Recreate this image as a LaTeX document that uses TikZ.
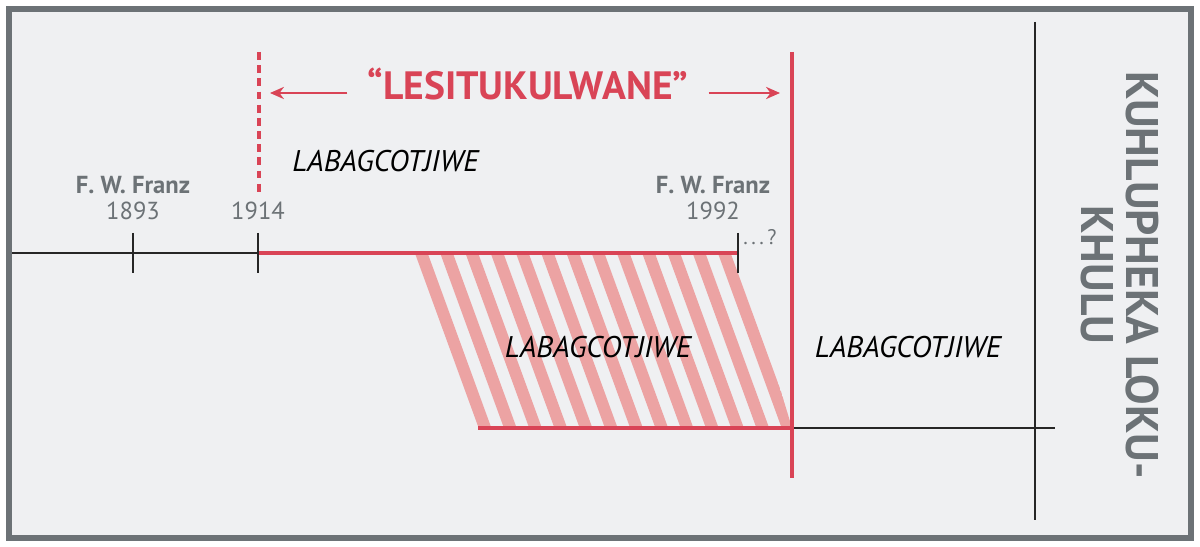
\documentclass[tikz,border=0pt]{standalone}
\usepackage{fontspec}
\setmainfont{PT Sans}
\usetikzlibrary{arrows.meta, positioning}

\definecolor{tlred}{RGB}{217,68,86}
\definecolor{tlpink}{RGB}{236,163,163}
\definecolor{tlgray}{RGB}{108,114,118}
\definecolor{tlbg}{RGB}{239,240,242}

\begin{document}
\begin{tikzpicture}[
    x=0.02cm, y=-0.02cm,
    blackline/.style={draw=black!85, line width=1.6pt},
    redline/.style={draw=tlred, line width=2.3pt},
    tickmark/.style={draw=black!85, line width=1.4pt},
    arr/.style={-{Stealth[length=8pt, width=7pt]}, draw=tlred, line width=0.9pt},
    era/.style={font=\fontsize{17}{20}\selectfont\itshape, text=black, inner sep=0pt},
    who/.style={font=\fontsize{14}{17}\selectfont\bfseries, text=tlgray, inner sep=0pt},
    yr/.style={font=\fontsize{14}{17}\selectfont, text=tlgray, inner sep=0pt}
]
    % frame and background
    \fill[white] (0,0) rectangle (1200,547);
    \draw[fill=tlbg, draw=tlgray, line width=3.4pt] (9,9) rectangle (1191,538);

    % points on the upper timeline
    \coordinate (start) at (12,253);
    \coordinate (y1893) at (133,253);
    \coordinate (y1914) at (258,253);
    \coordinate (y1992) at (738,253);

    % hatched band
    \begin{scope}
        \clip (410,255) -- (740,255) -- (792,428) -- (478,428) -- cycle;
        \foreach \k in {0,...,13}
            \draw[tlpink, line width=6.8pt] (416.5+25.25*\k,240) -- (422.5+25.25*\k+68,443);
    \end{scope}

    % upper timeline
    \draw[blackline] (start) -- (y1914);
    \draw[redline] (y1914) -- (y1992);
    \foreach \p in {y1893, y1914, y1992}
        \draw[tickmark] (\p) ++(0,-20) -- ++(0,40);

    % lower timeline
    \coordinate (low0) at (478,428);
    \coordinate (lowend) at (792,428);
    \coordinate (low1) at (1055,428);
    \draw[redline] (low0) -- (lowend);
    \draw[blackline] (lowend) -- (low1);

    % boundaries
    \draw[tlred, line width=2pt, dash pattern=on 4.5pt off 3pt] (259,52) -- (259,193);
    \coordinate (endtop) at (792,52);
    \coordinate (endbot) at (792,478);
    \draw[tlred, line width=1.9pt] (endtop) -- (endbot);
    \draw[black!85, line width=1.4pt] (1035,22) -- (1035,520);

    % heading with arrows
    \node[font=\fontsize{22.5}{26}\selectfont\bfseries, text=tlred, anchor=base] (title) at (528,100) {“LESITUKULWANE”};
    \coordinate (leftend) at (270,93);
    \coordinate (rightend) at (780,93);
    \draw[arr] ([xshift=-8pt]title.west |- leftend) -- (leftend);
    \draw[arr] ([xshift=8pt]title.east |- rightend) -- (rightend);

    % labels
    \node[era, anchor=base west] (era1) at (292,172) {LABAGCOTJIWE};
    \node[era, anchor=base] (era2) at (598,357) {LABAGCOTJIWE};
    \node[era, anchor=base] (era3) at (908,357) {LABAGCOTJIWE};

    \node[who, anchor=base] (franz1) at (133,194) {F. W. Franz};
    \node[yr, anchor=base] (yr1893) at (133,220) {1893};
    \node[yr, anchor=base] (yr1914) at (258,220) {1914};
    \node[who, anchor=base] (franz2) at (713,194) {F. W. Franz};
    \node[yr, anchor=base] (yr1992) at (713,220) {1992};
    \node[yr, anchor=base west, font=\fontsize{12}{14}\selectfont] (more) at (743,245) {.\,.\,.\,?};

    % side heading
    \node[rotate=-90, align=center, text=tlgray, font=\fontsize{26}{26}\selectfont\bfseries] (side) at (1120,275) {KUHLUPHEKA LOKU-\\KHULU};
\end{tikzpicture}
\end{document}
